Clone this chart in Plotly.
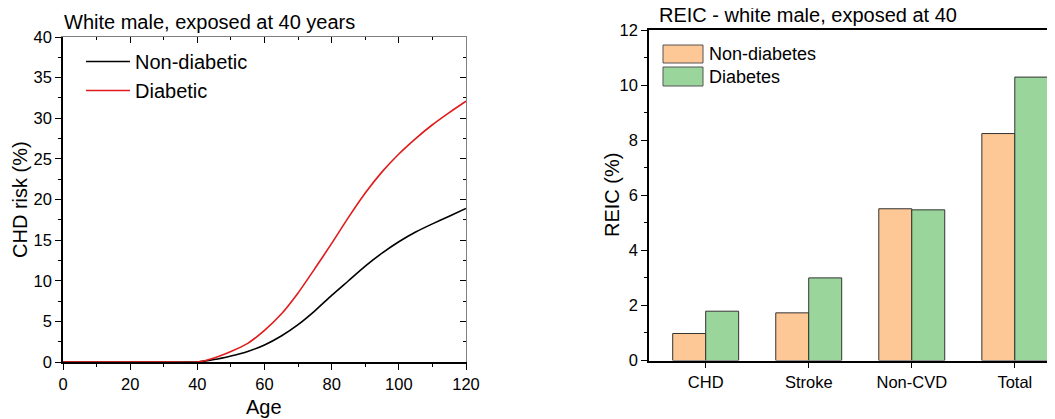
import plotly.graph_objects as go

# ---------------- data ----------------
ages = [0, 10, 20, 30, 40, 45, 50, 55, 60, 65, 70, 75, 80, 85, 90, 95, 100, 105, 110, 115, 120]
risk_non_diabetic = [0, 0, 0, 0, 0, 0.3, 0.75, 1.3, 2.1, 3.2, 4.6, 6.3, 8.2, 10.0, 11.8, 13.4, 14.8, 16.0, 17.0, 17.95, 18.9]
risk_diabetic = [0, 0, 0, 0, 0, 0.5, 1.3, 2.3, 3.9, 5.9, 8.5, 11.5, 14.6, 17.8, 20.8, 23.4, 25.6, 27.5, 29.2, 30.7, 32.1]

categories = ["CHD", "Stroke", "Non-CVD", "Total"]
reic_non_diabetes = [0.98, 1.73, 5.51, 8.24]
reic_diabetes = [1.79, 3.0, 5.47, 10.29]

W, H = 1055, 419
OFF = 8  # page body margin offsets the figure in the window
FONT = "Liberation Sans, Arial, sans-serif"
ORANGE = "#FDC796"
GREEN = "#9AD69B"
RED = "#E01B1B"


def px_x(v):
    return (v - OFF) / W


def px_y(v):
    return 1 - (v - OFF) / H


fig = go.Figure()

# ---------------- left panel: lines ----------------
fig.add_trace(go.Scatter(x=ages, y=risk_non_diabetic, mode="lines", name="Non-diabetic",
                         line=dict(color="black", width=1.6, shape="spline", smoothing=0.6),
                         xaxis="x", yaxis="y", legend="legend"))
fig.add_trace(go.Scatter(x=ages, y=risk_diabetic, mode="lines", name="Diabetic",
                         line=dict(color=RED, width=1.6, shape="spline", smoothing=0.6),
                         xaxis="x", yaxis="y", legend="legend"))
# helper traces so the mirrored (inward-tick) axes are drawn
fig.add_trace(go.Scatter(x=[None], y=[None], xaxis="x3", yaxis="y", showlegend=False, hoverinfo="skip"))
fig.add_trace(go.Scatter(x=[None], y=[None], xaxis="x", yaxis="y3", showlegend=False, hoverinfo="skip"))

# ---------------- right panel: bars ----------------
fig.add_trace(go.Bar(x=categories, y=reic_non_diabetes, name="Non-diabetes",
                     marker=dict(color=ORANGE, line=dict(color="#333333", width=1)),
                     xaxis="x2", yaxis="y2", showlegend=False))
fig.add_trace(go.Bar(x=categories, y=reic_diabetes, name="Diabetes",
                     marker=dict(color=GREEN, line=dict(color="#333333", width=1)),
                     xaxis="x2", yaxis="y2", showlegend=False))

left_dom_x = [px_x(63), px_x(466)]
left_dom_y = [px_y(362), px_y(37)]
right_dom_x = [px_x(649), px_x(1055)]
right_dom_y = [px_y(360.5), px_y(30)]

tickfont = dict(family=FONT, size=16.5, color="black")

fig.update_layout(
    width=W, height=H,
    margin=dict(l=0, r=0, t=0, b=0, autoexpand=False),
    paper_bgcolor="white", plot_bgcolor="white",
    font=dict(family=FONT, color="black"),
    barmode="group", bargap=0.36, bargroupgap=0,
    xaxis=dict(domain=left_dom_x, anchor="y", range=[0, 120], tickvals=[0, 20, 40, 60, 80, 100, 120],
               ticks="outside", ticklen=6, tickwidth=1.2, tickcolor="black",
               minor=dict(dtick=10, ticks="outside", ticklen=3, tickcolor="black", showgrid=False),
               showline=True, linecolor="black", linewidth=1.5, showgrid=False, zeroline=False,
               tickfont=tickfont, fixedrange=True, automargin=False),
    yaxis=dict(domain=left_dom_y, anchor="x", range=[0, 40], tickvals=[0, 5, 10, 15, 20, 25, 30, 35, 40],
               ticks="outside", ticklen=6, tickwidth=1.2, tickcolor="black",
               minor=dict(dtick=2.5, ticks="outside", ticklen=3, tickcolor="black", showgrid=False),
               showline=True, linecolor="black", linewidth=1.5, showgrid=False, zeroline=False,
               tickfont=tickfont, fixedrange=True, automargin=False),
    xaxis3=dict(overlaying="x", side="top", anchor="y", range=[0, 120], tickvals=[0, 20, 40, 60, 80, 100, 120],
                ticks="inside", ticklen=6, tickwidth=1.2, tickcolor="black",
                minor=dict(dtick=10, ticks="inside", ticklen=3, tickcolor="black", showgrid=False),
                showline=True, linecolor="#808080", linewidth=1, showticklabels=False,
                showgrid=False, zeroline=False, fixedrange=True, automargin=False),
    yaxis3=dict(overlaying="y", side="right", anchor="x", range=[0, 40], tickvals=[0, 5, 10, 15, 20, 25, 30, 35, 40],
                ticks="inside", ticklen=6, tickwidth=1.2, tickcolor="black",
                minor=dict(dtick=2.5, ticks="inside", ticklen=3, tickcolor="black", showgrid=False),
                showline=True, linecolor="#808080", linewidth=1, showticklabels=False,
                showgrid=False, zeroline=False, fixedrange=True, automargin=False),
    xaxis2=dict(domain=right_dom_x, anchor="y2", range=[-0.55, 3.39], type="category",
                ticks="outside", ticklen=6, tickwidth=1.2, tickcolor="black",
                showline=True, linecolor="black", linewidth=1.5, mirror=True,
                showgrid=False, zeroline=False, tickfont=tickfont, fixedrange=True, automargin=False),
    yaxis2=dict(domain=right_dom_y, anchor="x2", range=[0, 12], tickvals=[0, 2, 4, 6, 8, 10, 12],
                ticks="outside", ticklen=6, tickwidth=1.2, tickcolor="black",
                minor=dict(dtick=1, ticks="outside", ticklen=3, tickcolor="black", showgrid=False),
                showline=True, linecolor="black", linewidth=1.5, showgrid=False, zeroline=False,
                tickfont=tickfont, fixedrange=True, automargin=False),
    legend=dict(x=px_x(81), y=px_y(42), xanchor="left", yanchor="top",
                bgcolor="rgba(0,0,0,0)", borderwidth=0, itemwidth=44,
                font=dict(family=FONT, size=20, color="black"), tracegroupgap=0),
    showlegend=True,
)

annotations = [
    dict(text="White male, exposed at 40 years", x=px_x(62), y=px_y(22), xanchor="left", yanchor="middle",
         font=dict(size=20)),
    dict(text="CHD risk (%)", x=px_x(20), y=px_y(200), xanchor="center", yanchor="middle", textangle=-90,
         font=dict(size=20)),
    dict(text="Age", x=px_x(264), y=px_y(407), xanchor="center", yanchor="middle", font=dict(size=20)),
    dict(text="REIC - white male, exposed at 40", x=px_x(657), y=px_y(15.5), xanchor="left", yanchor="middle",
         font=dict(size=20)),
    dict(text="REIC (%)", x=px_x(612), y=px_y(195), xanchor="center", yanchor="middle", textangle=-90,
         font=dict(size=20)),
    dict(text="Non-diabetes", x=px_x(707), y=px_y(54), xanchor="left", yanchor="middle", font=dict(size=18)),
    dict(text="Diabetes", x=px_x(707), y=px_y(77), xanchor="left", yanchor="middle", font=dict(size=18)),
]
for a in annotations:
    a.update(xref="paper", yref="paper", showarrow=False)
    a["font"].update(family=FONT, color="black")
fig.update_layout(annotations=annotations)

# legend swatches for the bar panel
shapes = [
    dict(type="rect", x0=px_x(663), x1=px_x(703), y0=px_y(63), y1=px_y(45),
         fillcolor=ORANGE, line=dict(color="#555555", width=1)),
    dict(type="rect", x0=px_x(663), x1=px_x(703), y0=px_y(86), y1=px_y(67),
         fillcolor=GREEN, line=dict(color="#555555", width=1)),
]
for s in shapes:
    s.update(xref="paper", yref="paper")
fig.update_layout(shapes=shapes)

fig.write_html("out.html")
